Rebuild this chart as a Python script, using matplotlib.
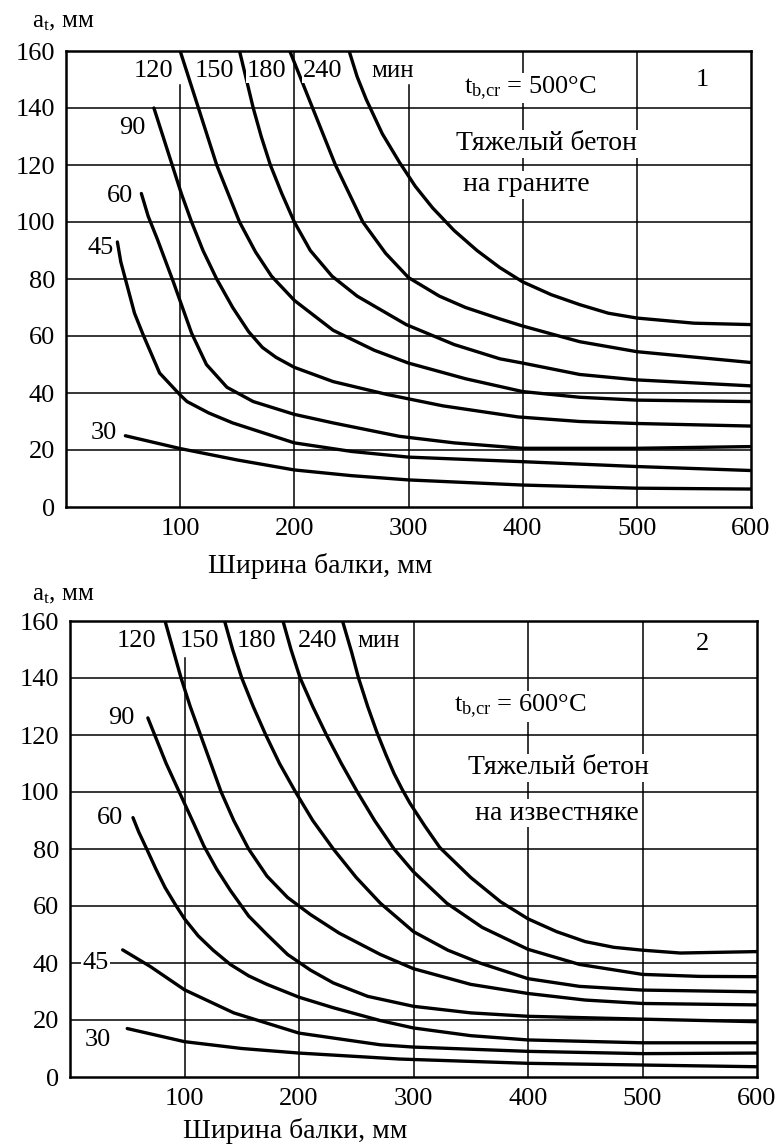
import matplotlib
matplotlib.use("Agg")
import matplotlib.pyplot as plt

plt.rcParams['font.family'] = ['Liberation Serif', 'DejaVu Serif']
plt.rcParams['mathtext.default'] = 'regular'

# --- panel 1: heavy concrete on granite, t_b,cr = 500 C ---
g_w30 = [52, 100, 150, 200, 250, 300, 400, 500, 600]
g_a30 = [25, 20.5, 16.5, 13, 11, 9.5, 7.7, 6.6, 6.3]
g_w45 = [45, 48, 52, 60, 68, 82, 100, 106, 125, 146, 200, 250, 300, 400, 500, 600]
g_a45 = [93, 86, 80, 68, 60, 47, 39.3, 37, 33, 29.5, 22.5, 19.5, 17.5, 15.9, 14.2, 12.8]
g_w60 = [66, 72, 80, 94, 110, 123, 141, 164, 200, 234, 292, 340, 400, 500, 600]
g_a60 = [110, 102, 94, 79, 61, 50, 42, 37, 32.5, 29.5, 24.8, 22.5, 20.6, 20.6, 21.2]
g_w90 = [77, 85, 93, 101, 110, 120, 132, 146, 160, 172, 184, 200, 234, 281, 330, 396, 450, 500, 600]
g_a90 = [140, 130, 120, 110, 100, 90, 80, 70, 61.5, 56, 52.5, 49, 44, 39.5, 35.5, 31.6, 30, 29.3, 28.4]
g_w120 = [100, 116, 132, 152, 166, 180, 200, 234, 270, 300, 350, 400, 450, 500, 600]
g_a120 = [160, 140, 120, 100, 89.5, 81, 72.5, 62, 55, 50.5, 45, 40.5, 38.5, 37.5, 37]
g_w150 = [152, 158, 164, 171, 179, 189, 200, 214, 233, 255, 298, 340, 380, 400, 450, 500, 600]
g_a150 = [160, 150, 140, 130, 120, 110, 100, 90, 81, 74, 64, 57, 52, 50.5, 46.5, 44.6, 42.5]
g_w180 = [196, 206, 216, 226, 236, 248, 260, 280, 300, 327, 350, 380, 400, 450, 500, 600]
g_a180 = [160, 150, 140, 130, 120, 110, 100, 89, 80.5, 74, 70, 66, 63.5, 58, 54.5, 50.7]
g_w240 = [248, 255, 263, 277, 292, 306, 321, 340, 360, 380, 400, 425, 450, 475, 500, 550, 600]
g_a240 = [160, 151, 143, 131, 121, 112.5, 105, 97, 90, 84, 79, 74.5, 71, 68, 66.3, 64.5, 64]

# --- panel 2: heavy concrete on limestone, t_b,cr = 600 C ---
l_w30 = [50, 100, 150, 200, 288, 400, 500, 600]
l_a30 = [17, 12.4, 10, 8.4, 6.3, 4.8, 4.2, 3.6]
l_w45 = [46, 70, 100, 143, 200, 271, 300, 400, 500, 600]
l_a45 = [44.6, 38.8, 30.6, 22.5, 15.4, 11.3, 10.5, 9, 8.2, 8.4]
l_w60 = [55, 60, 67, 75, 83, 92, 100, 112, 125, 140, 156, 172, 200, 230, 271, 300, 350, 400, 500, 600]
l_a60 = [91, 86, 80, 73, 66.5, 60.5, 55.5, 49.5, 44.5, 39.5, 35.5, 32.5, 28, 24.3, 19.8, 17.2, 14.5, 13, 12, 12]
l_w90 = [68, 76, 84, 92, 100, 108, 117, 128, 140, 156, 172, 190, 210, 230, 260, 300, 350, 400, 500, 600]
l_a90 = [126, 118, 110, 103, 96, 89, 81, 73, 65.5, 56.5, 50, 43, 37.5, 33, 28.3, 24.8, 22.5, 21.3, 20.3, 19.4]
l_w120 = [83, 90, 97, 105, 114, 123, 132, 143, 156, 172, 190, 210, 235, 271, 300, 350, 400, 450, 500, 600]
l_a120 = [160, 150, 140, 130, 120, 110, 100, 90, 80, 70.5, 63, 57, 50.5, 43, 38, 32.5, 29.3, 27, 25.8, 25.3]
l_w150 = [135, 142, 150, 160, 171, 183, 197, 212, 230, 250, 271, 300, 330, 358, 400, 445, 500, 600]
l_a150 = [160, 150, 140, 130, 120, 110, 100, 90, 80, 70, 61, 51, 44.5, 40, 34.5, 31.8, 30.5, 29.9]
l_w180 = [186, 193, 201, 212, 224, 237, 251, 266, 283, 300, 329, 360, 400, 445, 500, 550, 600]
l_a180 = [160, 150, 140, 130, 120, 110, 100, 90, 80, 72, 61, 52.5, 44.8, 39.5, 36, 35.3, 35.2]
l_w240 = [238, 246, 252, 260, 268, 276, 283, 290, 297, 310, 323, 350, 376, 400, 425, 450, 475, 500, 533, 600]
l_a240 = [160, 149, 140, 130, 121, 113, 106.5, 101, 96, 88, 80.5, 70, 61.5, 55.5, 51, 47.5, 45.5, 44.5, 43.5, 44]

y_ticks = [0, 20, 40, 60, 80, 100, 120, 140, 160]
x_ticks = [100, 200, 300, 400, 500, 600]
curve_labels = ['30', '45', '60', '90', '120', '150', '180', '240']


def draw_panel(ax, curves, vgrid, label_pos, texts):
    ax.set_xlim(0, 600)
    ax.set_ylim(0, 160)
    # grid lines, some of them start below the top like in the original
    for y in y_ticks[1:-1]:
        ax.axhline(y, color='black', lw=1.1, zorder=1)
    for x, top in vgrid:
        ax.axvline(x, ymin=0, ymax=top / 160, color='black', lw=1.1, zorder=1)
    for w, a in curves:
        ax.plot(w, a, color='black', lw=2.4, solid_joinstyle='round',
                solid_capstyle='round', zorder=3)
    for lab, (x, y) in zip(curve_labels, label_pos):
        ax.text(x, y, lab, fontsize=19, ha='center', va='center', zorder=4,
                bbox=dict(facecolor='white', edgecolor='none', pad=1))
    for x, y, s, fs in texts:
        ax.text(x, y, s, fontsize=fs, ha='center', va='center', zorder=4,
                bbox=dict(facecolor='white', edgecolor='none', pad=1))
    ax.set_xticks(x_ticks)
    ax.set_yticks(y_ticks)
    ax.tick_params(length=0, labelsize=19, pad=8)
    for sp in ax.spines.values():
        sp.set_linewidth(1.8)


fig = plt.figure(figsize=(7.75, 11.46), dpi=100)

ax1 = fig.add_axes([66 / 775, 1 - 507 / 1146, 685 / 775, 456 / 1146])
draw_panel(
    ax1,
    [(g_w30, g_a30), (g_w45, g_a45), (g_w60, g_a60), (g_w90, g_a90),
     (g_w120, g_a120), (g_w150, g_a150), (g_w180, g_a180), (g_w240, g_a240)],
    [(100, 148), (200, 160), (300, 148), (400, 160), (500, 160)],
    [(33, 26), (30, 91), (47, 109), (58, 133), (77, 153), (130, 153), (176, 153), (225, 153)],
    [(286, 153, 'мин', 18),
     (407, 147, 't$_{b{,}cr}$ = 500°C', 19),
     (421, 127.5, 'Тяжелый бетон', 20),
     (403, 113, 'на граните', 20),
     (557, 150, '1', 19)])
fig.text(32 / 775, 1 - 22 / 1146, 'a$_t$, мм', fontsize=18, ha='left', va='center')
fig.text(320 / 775, 1 - 566 / 1146, 'Ширина балки, мм', fontsize=20, ha='center', va='center')

ax2 = fig.add_axes([70 / 775, 1 - 1077 / 1146, 687 / 775, 456 / 1146])
draw_panel(
    ax2,
    [(l_w30, l_a30), (l_w45, l_a45), (l_w60, l_a60), (l_w90, l_a90),
     (l_w120, l_a120), (l_w150, l_a150), (l_w180, l_a180), (l_w240, l_a240)],
    [(100, 147), (200, 140), (300, 160), (400, 160), (500, 160)],
    [(24, 13), (22, 40), (35, 91), (45, 126), (58, 153), (113, 153), (163, 153), (216, 153)],
    [(270, 153, 'мин', 18),
     (393, 130, 't$_{b{,}cr}$ = 600°C', 19),
     (427, 108.5, 'Тяжелый бетон', 20),
     (425, 92.5, 'на известняке', 20),
     (552, 152, '2', 19)])
fig.text(32 / 775, 1 - 595 / 1146, 'a$_t$, мм', fontsize=18, ha='left', va='center')
fig.text(295 / 775, 1 - 1131 / 1146, 'Ширина балки, мм', fontsize=20, ha='center', va='center')

fig.savefig('out.png', dpi=100)
